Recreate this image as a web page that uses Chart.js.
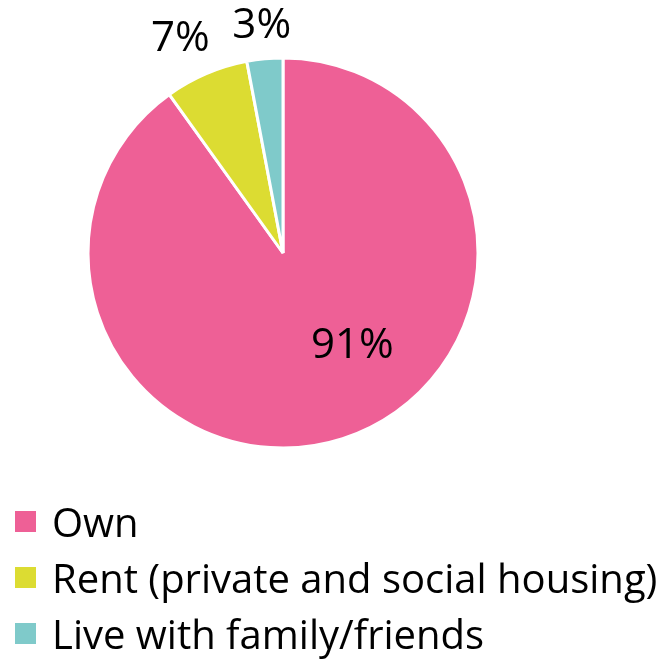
<!DOCTYPE html>
<html>
<head>
<meta charset="utf-8">
<script src="https://cdn.jsdelivr.net/npm/chart.js@4/dist/chart.umd.min.js"></script>
<style>
  html, body { margin: 0; padding: 0; background: #fff; }
  #wrap { position: relative; width: 671px; height: 662px; font-family: "Open Sans", sans-serif; }
  #pieBox { position: absolute; left: 0; top: 0; width: 566px; height: 500px; }
  #legend { position: absolute; left: 15px; top: 493px; }
  .row { display: flex; align-items: center; height: 56px; font-size: 40px; color: #000; white-space: nowrap; }
  .box { width: 21px; height: 21px; margin-right: 16px; flex: none; }
</style>
</head>
<body>
<div id="wrap">
  <div id="pieBox"><canvas id="pieChart"></canvas></div>
  <div id="legend"></div>
</div>
<script>
var labels = ["Own", "Rent (private and social housing)", "Live with family/friends"];
var values = [91, 7, 3];
var colors = ["#ee6096", "#dcdc32", "#7fcaca"];

// where each percentage sits: fraction of radius, and angle nudge in degrees
var labelRadius = [0.594, 1.215, 1.17];
var labelShift = [-19, -2.5, 0];

var pctLabels = {
    id: 'pctLabels',
    afterDatasetsDraw: function(chart) {
        var ctx = chart.ctx;
        var meta = chart.getDatasetMeta(0);
        ctx.save();
        ctx.font = '42px "Open Sans", sans-serif';
        ctx.fillStyle = '#000';
        ctx.textAlign = 'center';
        ctx.textBaseline = 'middle';
        meta.data.forEach(function(arc, i) {
            var p = arc.getProps(['x', 'y', 'startAngle', 'endAngle', 'outerRadius'], true);
            var a = (p.startAngle + p.endAngle) / 2 + labelShift[i] * Math.PI / 180;
            var r = p.outerRadius * labelRadius[i];
            ctx.fillText(values[i] + '%', p.x + Math.cos(a) * r, p.y + Math.sin(a) * r);
        });
        ctx.restore();
    }
};

var ctxP = document.getElementById("pieChart").getContext('2d');
var myPieChart = new Chart(ctxP, {
    type: 'pie',
    data: {
        labels: labels,
        datasets: [{
            data: values,
            backgroundColor: colors,
            borderColor: '#fff',
            borderWidth: 3
        }]
    },
    options: {
        responsive: true,
        maintainAspectRatio: false,
        animation: false,
        layout: { padding: { top: 56.5, bottom: 50.5, left: 0, right: 0 } },
        plugins: {
            legend: { display: false },
            tooltip: { enabled: false }
        }
    },
    plugins: [pctLabels]
});

// legend rows
var legend = document.getElementById("legend");
labels.forEach(function(name, i) {
    var row = document.createElement("div");
    row.className = "row";
    var box = document.createElement("span");
    box.className = "box";
    box.style.background = colors[i];
    row.appendChild(box);
    row.appendChild(document.createTextNode(name));
    legend.appendChild(row);
});
</script>
</body>
</html>
